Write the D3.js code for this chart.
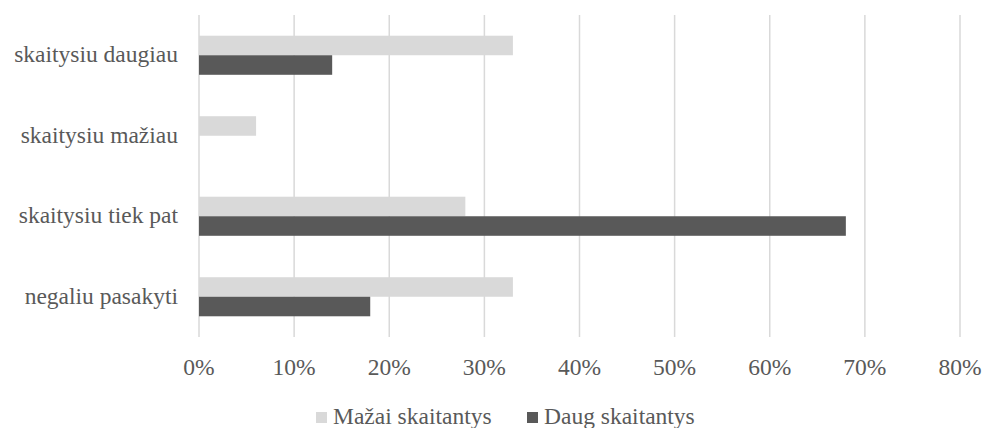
<!DOCTYPE html>
<html>
<head>
<meta charset="utf-8">
<script src="https://cdn.jsdelivr.net/npm/d3@7"></script>
<style>
  body { margin: 0; background: #fff; }
</style>
</head>
<body>
<div id="chart"></div>
<script>
const WIDTH = 984;
const HEIGHT = 428;
const FONT = "'Liberation Serif'";

const categories = ["skaitysiu daugiau", "skaitysiu mažiau", "skaitysiu tiek pat", "negaliu pasakyti"];
const seriesNames = ["Mažai skaitantys", "Daug skaitantys"];
const mazaiValues = [0.33, 0.06, 0.28, 0.33];
const daugValues = [0.14, 0, 0.68, 0.18];
const xTicks = [0, 0.1, 0.2, 0.3, 0.4, 0.5, 0.6, 0.7, 0.8];
const colors = ["#d9d9d9", "#595959"];

const margin = {top: 15, right: 24, bottom: 91, left: 199};

const svg = d3.select("#chart")
  .append("svg")
  .attr("width", WIDTH)
  .attr("height", HEIGHT);

const x = d3.scaleLinear()
  .domain([0, 0.8])
  .range([margin.left, WIDTH - margin.right]);

const y = d3.scaleBand()
  .domain(categories)
  .range([margin.top, HEIGHT - margin.bottom]);

const inner = d3.scaleBand()
  .domain(seriesNames)
  .range([0, y.bandwidth()])
  .paddingOuter(1.06)
  .paddingInner(0);

let label = sel => sel
  .style("font-family", FONT)
  .style("font-size", "23.5px")
  .style("fill", "#595959");

// gridlines
svg.append("g")
  .selectAll("line")
  .data(xTicks)
  .enter()
  .append("line")
  .attr("x1", d => x(d))
  .attr("x2", d => x(d))
  .attr("y1", margin.top)
  .attr("y2", HEIGHT - margin.bottom)
  .style("stroke", "#d9d9d9")
  .style("stroke-width", 1.5);

// x tick labels
svg.append("g")
  .selectAll("text")
  .data(xTicks)
  .enter()
  .append("text")
  .attr("x", d => x(d))
  .attr("y", 375)
  .attr("text-anchor", "middle")
  .call(label)
  .text(d3.format(".0%"));

// category labels
svg.append("g")
  .selectAll("text")
  .data(categories)
  .enter()
  .append("text")
  .attr("x", 178)
  .attr("y", d => y(d) + y.bandwidth() / 2 + 7)
  .attr("text-anchor", "end")
  .call(label)
  .text(d => d);

// bars
const rows = categories.map((c, i) => ({cat: c, vals: [mazaiValues[i], daugValues[i]]}));

const group = svg.append("g")
  .selectAll("g")
  .data(rows)
  .enter()
  .append("g")
  .attr("transform", d => `translate(0, ${y(d.cat)})`);

group.selectAll("rect")
  .data(d => d.vals.map((v, j) => ({name: seriesNames[j], value: v, color: colors[j]})))
  .enter()
  .append("rect")
  .attr("x", x(0))
  .attr("y", d => inner(d.name))
  .attr("width", d => x(d.value) - x(0))
  .attr("height", inner.bandwidth())
  .style("fill", d => d.color);

// legend
const legendItems = [
  {name: seriesNames[0], color: colors[0], x: 316},
  {name: seriesNames[1], color: colors[1], x: 527}
];

const legend = svg.append("g")
  .selectAll("g")
  .data(legendItems)
  .enter()
  .append("g")
  .attr("transform", d => `translate(${d.x}, 412)`);

legend.append("rect")
  .attr("width", 11)
  .attr("height", 11)
  .style("fill", d => d.color);

legend.append("text")
  .attr("x", 17)
  .attr("y", 12)
  .call(label)
  .text(d => d.name);
</script>
</body>
</html>
